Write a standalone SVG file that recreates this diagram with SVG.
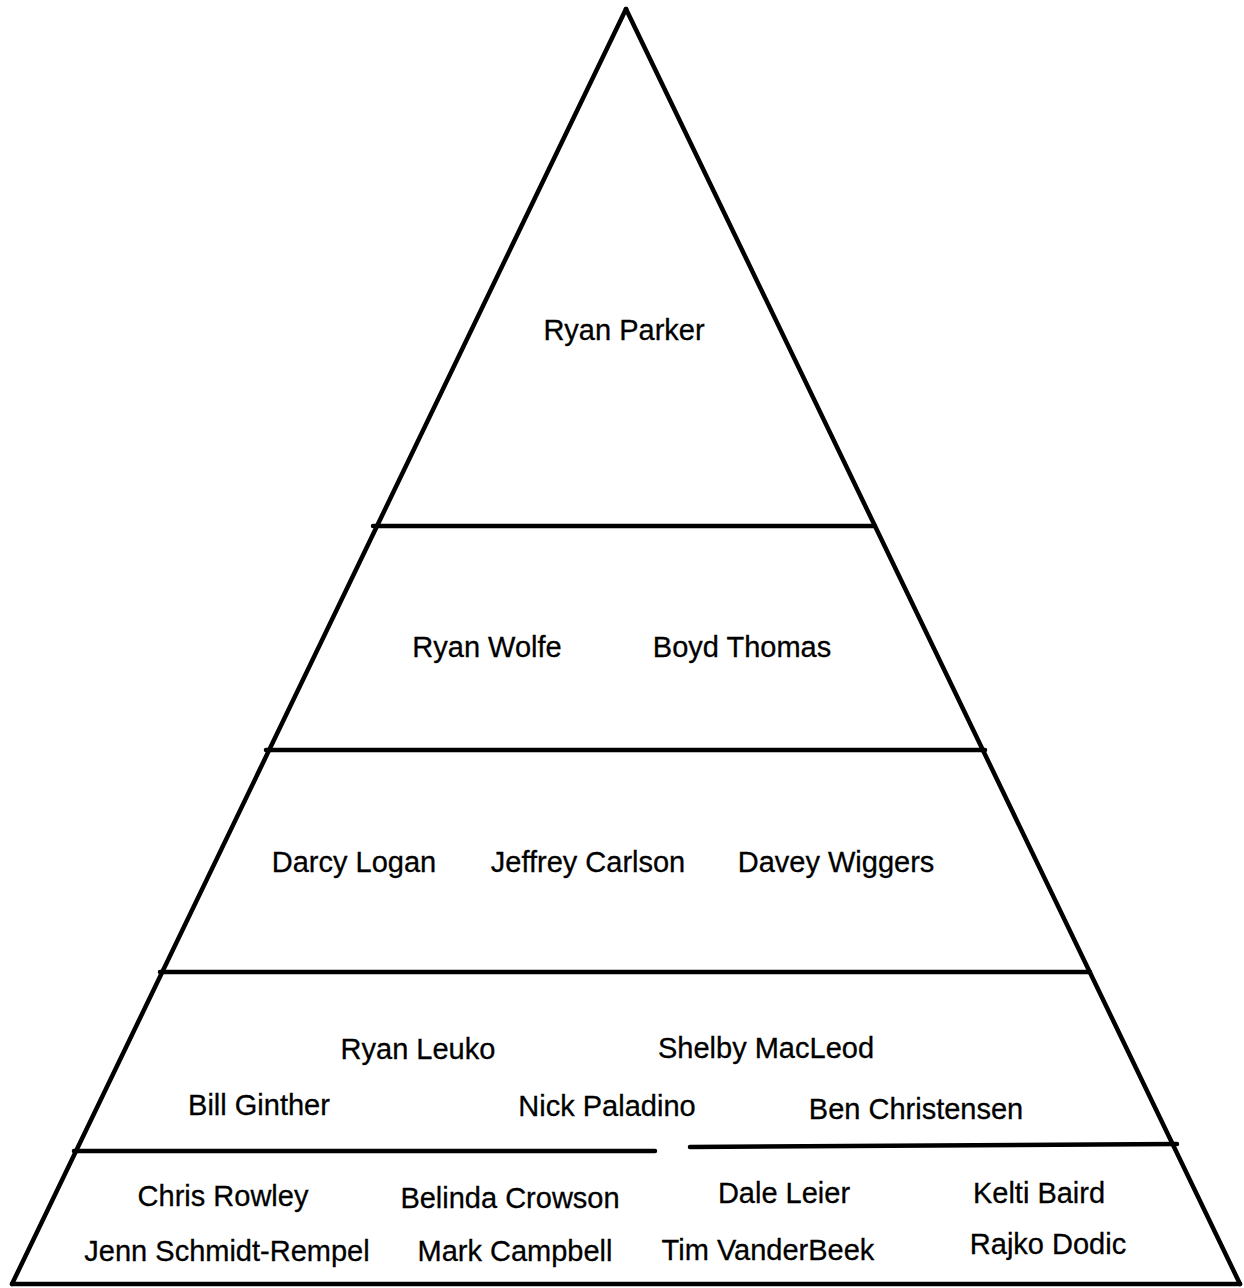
<svg xmlns="http://www.w3.org/2000/svg" width="1244" height="1288" viewBox="0 0 1244 1288">
<style>
.ln{stroke:#000;stroke-width:4.5;fill:none;stroke-linecap:round;stroke-linejoin:miter}
text{font-family:"Liberation Sans",Arial,Helvetica,sans-serif;font-size:29px;fill:#000;text-anchor:middle;stroke:#000;stroke-width:0.3}
</style>
<rect width="1244" height="1288" fill="#fff"/>
<g id="connectors">
<path class="ln" d="M626,9 L12,1284"/>
<path class="ln" d="M626,9 L1240,1284"/>
<path class="ln" d="M12,1284 L1240,1284"/>
<path class="ln" d="M373,526 L875,526"/>
<path class="ln" d="M266,750 L985,750"/>
<path class="ln" d="M160,972 L1090,972"/>
<path class="ln" d="M74,1151 L655,1151 M690,1147 L1177,1144"/>
</g>
<g id="tier1"><text x="624" y="340">Ryan Parker</text></g>
<g id="tier2">
<text x="487" y="657">Ryan Wolfe</text>
<text x="742" y="657">Boyd Thomas</text>
</g>
<g id="tier3">
<text x="354" y="872">Darcy Logan</text>
<text x="588" y="872">Jeffrey Carlson</text>
<text x="836" y="872">Davey Wiggers</text>
</g>
<g id="tier4">
<text x="418" y="1059">Ryan Leuko</text>
<text x="766" y="1058">Shelby MacLeod</text>
<text x="259" y="1115">Bill Ginther</text>
<text x="607" y="1116">Nick Paladino</text>
<text x="916" y="1119">Ben Christensen</text>
</g>
<g id="tier5">
<text x="223" y="1206">Chris Rowley</text>
<text x="510" y="1208">Belinda Crowson</text>
<text x="784" y="1203">Dale Leier</text>
<text x="1039" y="1203">Kelti Baird</text>
<text x="227" y="1261">Jenn Schmidt-Rempel</text>
<text x="515" y="1261">Mark Campbell</text>
<text x="768" y="1260">Tim VanderBeek</text>
<text x="1048" y="1254">Rajko Dodic</text>
</g>
</svg>
